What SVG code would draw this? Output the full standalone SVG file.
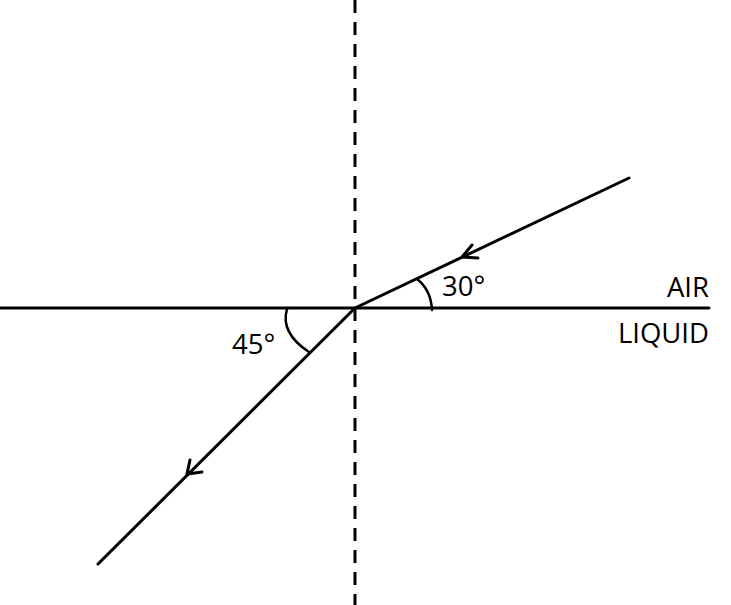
<svg xmlns="http://www.w3.org/2000/svg" width="731" height="605" viewBox="0 0 731 605">
<style>
.ln{stroke:#000;stroke-width:3;fill:none;stroke-linecap:round;stroke-linejoin:round}
.thin{stroke:#000;stroke-width:2.5;fill:none;stroke-linecap:round}
.lbl{font-family:"Open Sans","DejaVu Sans",sans-serif;font-size:27.5px;fill:#000}
</style>
<rect width="731" height="605" fill="#fff"/>
<g id="boundary">
<line x1="0" y1="308" x2="709" y2="308" class="ln" stroke-linecap="butt"/>
</g>
<g id="normal">
<line x1="355" y1="0" x2="355" y2="605" stroke="#000" stroke-width="3" stroke-dasharray="13 9"/>
</g>
<g id="connectors">
<polyline id="incident" points="629,178 355,308 98,564" class="ln"/>
<polyline id="arrow1" points="472,245 462,257 478,258" class="ln"/>
<polyline id="arrow2" points="190,460 187,474 202,472" class="ln"/>
</g>
<g id="angle30">
<path d="M417,279 Q431,290 432,310" class="thin"/>
<text x="442" y="296" class="lbl">30°</text>
</g>
<g id="angle45">
<path d="M287,309 Q280,333 309,352" class="thin"/>
<text x="232" y="354" class="lbl">45°</text>
</g>
<g id="labels">
<text x="709" y="297" class="lbl" text-anchor="end">AIR</text>
<text x="709" y="343" class="lbl" text-anchor="end">LIQUID</text>
</g>
</svg>
